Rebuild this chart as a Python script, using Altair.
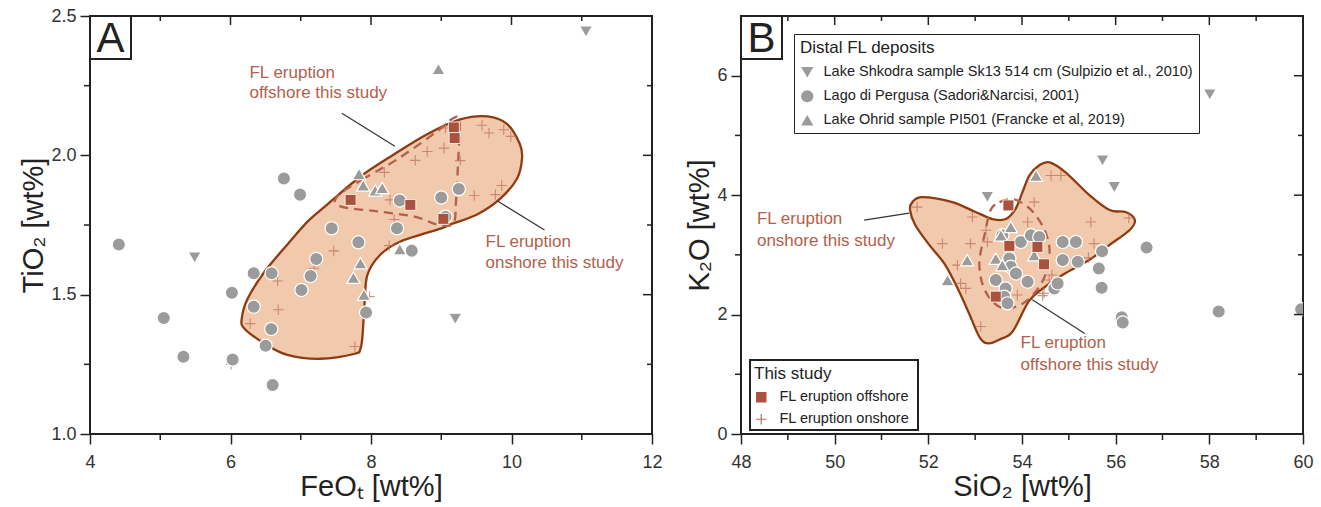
import altair as alt
import pandas as pd

FONT = "Liberation Sans"
GRAY = "#9b9b9b"
FILL = "#f1c9ac"
OUTLINE = "#8e3b12"
DASH = "#b3604a"
SQUARE = "#a9533e"
PLUSC = "#bd6c57"
ANN = "#b4604b"
INK = "#222222"
PLUS = "M-1,0L1,0M0,-1L0,1"

# ---------------- Panel A (FeOt vs TiO2) ----------------
a_perg_x = [4.41, 5.05, 5.33, 6.02, 6.03, 6.33, 6.585, 6.33, 6.58, 6.50, 6.60, 7.01, 7.14, 7.22,
            7.44, 7.82, 7.93, 6.76, 6.99, 8.37, 8.41, 8.58, 9.00, 9.25, 9.06]
a_perg_y = [1.68, 1.416, 1.277, 1.507, 1.267, 1.577, 1.577, 1.457, 1.377, 1.317, 1.176, 1.517, 1.567, 1.628,
            1.738, 1.688, 1.436, 1.917, 1.859, 1.738, 1.838, 1.658, 1.849, 1.879, 1.78]
a_ohrid_x = [8.96, 7.83, 7.89, 8.06, 8.16, 8.41, 7.85, 7.75, 7.90]
a_ohrid_y = [2.31, 1.933, 1.892, 1.874, 1.883, 1.663, 1.613, 1.561, 1.50]
a_shk_x = [11.06, 5.49, 9.20]
a_shk_y = [2.444, 1.633, 1.413]
a_off_x = [9.18, 9.19, 7.71, 8.56, 9.03]
a_off_y = [2.10, 2.062, 1.84, 1.822, 1.772]
a_on_x = [6.01, 6.28, 6.67, 6.68, 7.19, 7.47, 7.77, 7.98, 8.19, 8.27, 8.33, 8.26, 8.63, 8.80,
          9.04, 9.06, 9.27, 9.47, 9.58, 9.68, 9.89, 9.99, 9.77, 9.86]
a_on_y = [1.25, 1.396, 1.549, 1.446, 1.595, 1.657, 1.314, 1.493, 1.939, 1.84, 1.77, 1.676, 1.982, 2.014,
          2.026, 2.098, 1.981, 1.856, 2.108, 2.08, 2.092, 2.068, 1.859, 1.892]
a_field_on_x = [6.16, 6.245, 6.487, 6.81, 7.10, 7.38, 7.85, 8.33, 8.80, 9.27, 9.66, 9.94, 10.12, 10.15,
                10.08, 9.84, 9.51, 9.13, 8.99, 8.42, 8.135, 7.95, 7.91, 7.88, 7.85, 7.77, 7.28, 6.81,
                6.49, 6.20]
a_field_on_y = [1.414, 1.486, 1.583, 1.68, 1.763, 1.824, 1.924, 2.004, 2.076, 2.129, 2.14, 2.112, 2.04,
                1.989, 1.917, 1.845, 1.788, 1.752, 1.737, 1.691, 1.644, 1.572, 1.475, 1.356, 1.306,
                1.288, 1.27, 1.284, 1.324, 1.378]
a_field_off_x = [7.52, 7.88, 8.375, 8.94, 9.17, 9.26, 9.24, 9.21, 9.17, 8.94, 8.62, 8.09, 7.565]
a_field_off_y = [1.853, 1.914, 1.986, 2.086, 2.133, 2.122, 1.978, 1.835, 1.755, 1.752, 1.78, 1.799, 1.817]
a_lab_text = ["FL eruption", "offshore this study", "FL eruption", "onshore this study"]
a_lab_x = [6.27, 6.27, 9.63, 9.63]
a_lab_y = [2.296, 2.222, 1.689, 1.612]
a_ptr_x = [7.585, 9.80]
a_ptr_y = [2.151, 1.836]
a_ptr_x2 = [8.34, 10.47]
a_ptr_y2 = [2.033, 1.732]
a_xmajor = [4, 6, 8, 10, 12]
a_xminor = [5, 7, 9, 11]
a_ymajor = [1.0, 1.5, 2.0, 2.5]
a_yminor = [1.25, 1.75, 2.25]

# ---------------- Panel B (SiO2 vs K2O) ----------------
b_perg_x = [53.58, 53.975, 54.19, 54.37, 54.87, 55.15, 54.87, 55.19, 53.73, 53.76, 53.44, 53.87, 54.12,
            53.65, 53.62, 53.69, 54.69, 54.76, 55.71, 55.64, 55.70, 56.66, 56.13, 56.15, 58.20, 59.96]
b_perg_y = [3.328, 3.217, 3.328, 3.30, 3.217, 3.217, 2.912, 2.883, 2.938, 2.80, 2.578, 2.688, 2.55,
            2.438, 2.30, 2.188, 2.438, 2.522, 3.062, 2.772, 2.45, 3.122, 1.955, 1.867, 2.05, 2.088]
b_ohrid_x = [54.30, 53.76, 53.55, 52.83, 53.44, 53.58, 52.41, 54.26]
b_ohrid_y = [4.328, 3.467, 3.328, 2.912, 2.938, 2.828, 2.578, 2.995]
b_shk_x = [53.26, 55.72, 55.97, 58.01]
b_shk_y = [3.967, 4.578, 4.133, 5.683]
b_off_x = [53.71, 53.73, 54.33, 54.47, 53.44]
b_off_y = [3.828, 3.15, 3.133, 2.842, 2.30]
b_on_x = [51.76, 52.94, 53.23, 52.30, 52.90, 53.26, 52.62, 52.69, 52.80, 53.90, 54.47, 54.58, 53.12,
          54.26, 54.62, 54.83, 54.12, 55.47, 56.28, 55.54, 55.42, 54.64, 54.44]
b_on_y = [3.80, 3.633, 3.412, 3.188, 3.188, 3.217, 2.828, 2.522, 2.438, 2.328, 2.355, 2.578, 1.80,
          3.883, 4.328, 4.328, 3.55, 3.55, 3.617, 3.188, 2.95, 2.662, 2.317]
b_field_on_x = [51.66, 51.87, 52.51, 53.01, 53.37, 53.65, 53.86, 54.01, 54.16, 54.37, 54.59, 54.93,
                55.44, 55.87, 56.21, 56.41, 56.30, 55.87, 55.44, 54.87, 54.44, 54.14, 53.80, 53.52,
                53.30, 53.11, 52.88, 52.66, 52.36, 52.02, 51.72, 51.61]
b_field_on_y = [3.883, 3.967, 3.883, 3.717, 3.60, 3.60, 3.767, 4.05, 4.333, 4.50, 4.55, 4.383, 4.00,
                3.75, 3.717, 3.583, 3.417, 3.167, 2.917, 2.667, 2.433, 2.217, 1.717, 1.583, 1.517,
                1.60, 2.00, 2.383, 2.833, 3.167, 3.50, 3.75]
b_field_off_x = [53.33, 53.52, 53.80, 54.07, 54.29, 54.50, 54.59, 54.50, 54.29, 54.01, 53.65, 53.37,
                 53.16, 53.09, 53.20]
b_field_off_y = [3.75, 3.883, 3.933, 3.833, 3.667, 3.383, 3.05, 2.667, 2.383, 2.183, 2.10, 2.217,
                 2.50, 2.883, 3.333]
b_lab_text = ["FL eruption", "onshore this study", "FL eruption", "offshore this study"]
b_lab_x = [48.34, 48.34, 53.97, 53.97]
b_lab_y = [3.595, 3.228, 1.517, 1.15]
b_ptr_x = [50.63, 54.22]
b_ptr_y = [3.583, 2.25]
b_ptr_x2 = [51.59, 55.34]
b_ptr_y2 = [3.70, 1.683]
b_xmajor = [48, 50, 52, 54, 56, 58, 60]
b_xminor = [49, 51, 53, 55, 57, 59]
b_ymajor = [0, 2, 4, 6]
b_yminor = [1, 3, 5]

distal_names = ["Lake Shkodra sample Sk13 514 cm (Sulpizio et al., 2010)",
                "Lago di Pergusa (Sadori&Narcisi, 2001)",
                "Lake Ohrid sample PI501 (Francke et al, 2019)"]
study_names = ["FL eruption offshore", "FL eruption onshore"]

W, H = 562, 418


def main_axis(values, orient, title, fmt, lab_pad, title_pad):
    return alt.Axis(orient=orient, values=values, format=fmt, tickSize=10,
                    tickColor=INK, tickWidth=1.5, domain=False, grid=False, zindex=1,
                    labelFont=FONT, labelFontSize=18, labelColor="#333333", labelPadding=lab_pad,
                    labelFlush=False, labelOverlap=False,
                    title=title, titleFont=FONT, titleFontSize=29, titleFontWeight="normal",
                    titleColor=INK, titlePadding=title_pad)


def small_legend(title, lx, ly, fillc, strokec):
    args = dict(orient="none", legendX=lx, legendY=ly, direction="vertical", padding=0,
                titleFont=FONT, titleFontSize=17, titleFontWeight="normal", titleColor=INK,
                titlePadding=7, labelFont=FONT, labelFontSize=14.5, labelColor=INK, labelLimit=500,
                labelOffset=11, symbolSize=110, symbolFillColor=fillc, symbolStrokeColor=strokec,
                symbolStrokeWidth=1.2, symbolOpacity=1)
    args["title"] = title
    return alt.Legend(**args)


def panel(xf, yf, xs, ys, xaxis, yaxis, ticks, field_on, field_off, perg, ohrid, shk,
          off, on, labels, ptrs, letter, legends):
    X = lambda: alt.X(f"{xf}:Q", scale=xs, axis=xaxis)
    Y = lambda: alt.Y(f"{yf}:Q", scale=ys, axis=yaxis)

    fill = alt.Chart(field_on).mark_line(interpolate="cardinal-closed", fill=FILL, stroke=OUTLINE,
                                         strokeWidth=2.3).encode(x=X(), y=Y(), order="i:Q")
    dash = alt.Chart(field_off).mark_line(interpolate="cardinal-closed", stroke=DASH, strokeWidth=2.3,
                                          strokeDash=[9, 6]).encode(x=X(), y=Y(), order="i:Q")
    if legends:
        leg_on = small_legend(None, 13, 396, "transparent", PLUSC)
        leg_off = small_legend("This study", 13, 350, SQUARE, SQUARE)
        leg1 = alt.Legend(title="Distal FL deposits", orient="none", legendX=53, legendY=18,
                          direction="vertical", strokeColor=INK, fillColor="white", padding=6,
                          titleFont=FONT, titleFontSize=17, titleFontWeight="normal", titleColor=INK,
                          titlePadding=8, labelFont=FONT, labelFontSize=14.5, labelColor=INK,
                          labelLimit=500, labelOffset=9, rowPadding=9, symbolSize=150,
                          symbolFillColor=GRAY, symbolStrokeColor=GRAY, symbolStrokeWidth=0)
    else:
        leg_on = leg_off = leg1 = None
    plus = alt.Chart(on).mark_point(size=110, stroke=PLUSC, strokeWidth=1.1, filled=False).encode(
        x=X(), y=Y(),
        shape=alt.Shape("kind:N", scale=alt.Scale(domain=[study_names[1]], range=[PLUS]), legend=leg_on))
    distal = pd.concat([perg, ohrid, shk])
    shape1 = alt.Shape("src:N", scale=alt.Scale(domain=distal_names,
                                                range=["triangle-down", "circle", "triangle-up"]),
                       legend=leg1)
    gray = alt.Chart(distal).mark_point(filled=True, color=GRAY, opacity=1, size=175, stroke="white",
                                        strokeWidth=1.2, clip=True).encode(x=X(), y=Y(), shape=shape1)
    sq = alt.Chart(off).mark_point(filled=True, color=SQUARE, opacity=1, size=120,
                                   stroke="white", strokeWidth=0.8).encode(
        x=X(), y=Y(),
        shape=alt.Shape("kind:N", scale=alt.Scale(domain=[study_names[0]], range=["square"]),
                        legend=leg_off))
    rules = alt.Chart(ptrs).mark_rule(color="#333333", strokeWidth=1.2).encode(
        x=X(), y=Y(), x2="x2:Q", y2="y2:Q")
    texts = alt.Chart(labels).mark_text(align="left", baseline="middle", font=FONT, fontSize=17,
                                        color=ANN).encode(x=X(), y=Y(), text="t:N")
    one = pd.DataFrame({"k": [letter]})
    box = alt.Chart(one).mark_rect(fill="white", stroke=INK, strokeWidth=2).encode(
        x=alt.value(0), x2=alt.value(41), y=alt.value(0), y2=alt.value(43))
    let = alt.Chart(one).mark_text(font=FONT, fontSize=42, color=INK, baseline="middle",
                                   align="center").encode(x=alt.value(20.5), y=alt.value(23),
                                                          text="k:N")
    # frame ticks (top/right inward, minor outward on bottom/left)
    xmaj, xmin, ymaj, ymin = ticks
    tick_layers = []
    for vals, y1, y2 in [(xmaj, 0, 9), (xmin, 0, 5), (xmin, H, H + 6)]:
        tick_layers.append(alt.Chart(pd.DataFrame({xf: vals})).mark_rule(color=INK, strokeWidth=1.5)
                           .encode(x=X(), y=alt.value(y1), y2=alt.value(y2)))
    for vals, x1, x2 in [(ymaj, W, W - 9), (ymin, W, W - 5), (ymin, 0, -6)]:
        tick_layers.append(alt.Chart(pd.DataFrame({yf: vals})).mark_rule(color=INK, strokeWidth=1.5)
                           .encode(y=Y(), x=alt.value(x1), x2=alt.value(x2)))
    layers = [fill, dash, plus, gray, sq, rules, texts] + tick_layers + [box, let]
    if legends:
        lbox = alt.Chart(one).mark_rect(fill="white", stroke=INK, strokeWidth=2).encode(
            x=alt.value(9), x2=alt.value(177), y=alt.value(344), y2=alt.value(414))
        layers.insert(7, lbox)
    ch = alt.layer(*layers).properties(width=W, height=H).resolve_scale(shape="independent")
    return ch


def df(xs, ys, xf, yf, **extra):
    d = pd.DataFrame({xf: xs, yf: ys})
    for k, v in extra.items():
        d[k] = v
    return d


xA = alt.Scale(domain=[4, 12], nice=False, zero=False)
yA = alt.Scale(domain=[1.0, 2.5], nice=False, zero=False)
chartA = panel(
    "feo", "tio2", xA, yA,
    main_axis(a_xmajor, "bottom", "FeOₜ [wt%]", "d", 9, 1),
    main_axis(a_ymajor, "left", "TiO₂ [wt%]", ".1f", 4, 2),
    (a_xmajor, a_xminor, a_ymajor, a_yminor),
    df(a_field_on_x, a_field_on_y, "feo", "tio2", i=list(range(len(a_field_on_x)))),
    df(a_field_off_x, a_field_off_y, "feo", "tio2", i=list(range(len(a_field_off_x)))),
    df(a_perg_x, a_perg_y, "feo", "tio2", src=distal_names[1]),
    df(a_ohrid_x, a_ohrid_y, "feo", "tio2", src=distal_names[2]),
    df(a_shk_x, a_shk_y, "feo", "tio2", src=distal_names[0]),
    df(a_off_x, a_off_y, "feo", "tio2", kind=study_names[0]),
    df(a_on_x, a_on_y, "feo", "tio2", kind=study_names[1]),
    df(a_lab_x, a_lab_y, "feo", "tio2", t=a_lab_text),
    df(a_ptr_x, a_ptr_y, "feo", "tio2", x2=a_ptr_x2, y2=a_ptr_y2),
    "A", False)

xB = alt.Scale(domain=[48, 60], nice=False, zero=False)
yB = alt.Scale(domain=[0, 7], nice=False, zero=False)
chartB = panel(
    "sio2", "k2o", xB, yB,
    main_axis(b_xmajor, "bottom", "SiO₂ [wt%]", "d", 9, 1),
    main_axis(b_ymajor, "left", "K₂O [wt%]", "d", 4, 2),
    (b_xmajor, b_xminor, b_ymajor, b_yminor),
    df(b_field_on_x, b_field_on_y, "sio2", "k2o", i=list(range(len(b_field_on_x)))),
    df(b_field_off_x, b_field_off_y, "sio2", "k2o", i=list(range(len(b_field_off_x)))),
    df(b_perg_x, b_perg_y, "sio2", "k2o", src=distal_names[1]),
    df(b_ohrid_x, b_ohrid_y, "sio2", "k2o", src=distal_names[2]),
    df(b_shk_x, b_shk_y, "sio2", "k2o", src=distal_names[0]),
    df(b_off_x, b_off_y, "sio2", "k2o", kind=study_names[0]),
    df(b_on_x, b_on_y, "sio2", "k2o", kind=study_names[1]),
    df(b_lab_x, b_lab_y, "sio2", "k2o", t=b_lab_text),
    df(b_ptr_x, b_ptr_y, "sio2", "k2o", x2=b_ptr_x2, y2=b_ptr_y2),
    "B", True)

chart = alt.hconcat(chartA, chartB, spacing=20).resolve_scale(
    x="independent", y="independent", shape="independent"
).configure(padding={"left": 18, "top": 6, "right": 0, "bottom": 0}, background="white"
).configure_view(stroke=INK, strokeWidth=2)

chart.save("out.html", embed_options={"renderer": "svg", "actions": False})
